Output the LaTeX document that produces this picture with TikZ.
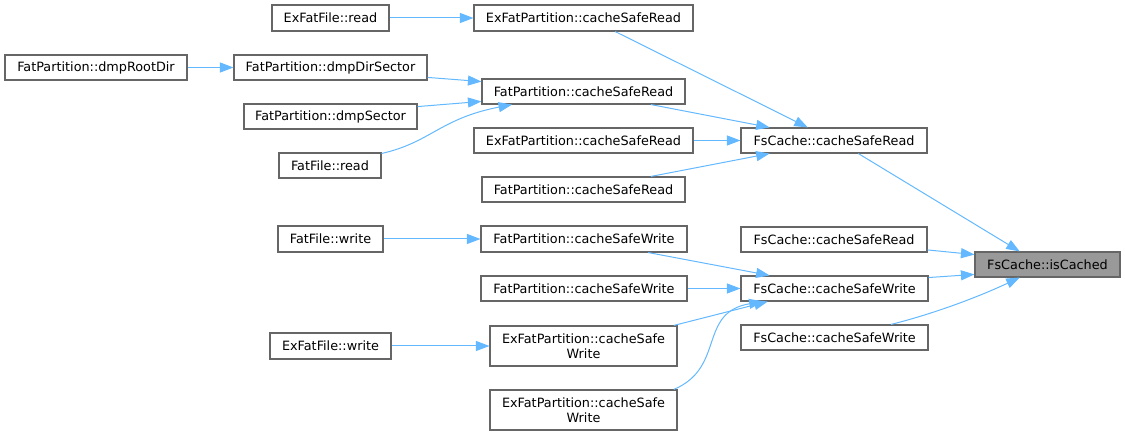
\documentclass[tikz,border=0pt]{standalone}
\usepackage{fontspec}
\setmainfont{DejaVu Sans}
\usetikzlibrary{arrows.meta,calc}
\definecolor{edgeblue}{HTML}{63B8FF}
\definecolor{boxgray}{HTML}{666666}
\definecolor{hlfill}{HTML}{999999}
\tikzset{
  fn/.style={draw=boxgray, line width=1.1pt, inner sep=0pt, minimum height=25pt,
    align=center, font=\fontsize{12.8}{14.5}\selectfont},
  fnhl/.style={fn, fill=hlfill},
  call/.style={draw=edgeblue, line width=1pt, -{Triangle[length=13.5pt,width=10pt]}},
}
\begin{document}
\begin{tikzpicture}[x=1pt,y=1pt]
\useasboundingbox (0,0) rectangle (1125,-435);
% column 1
\node[fn, minimum width=182pt] (rootdir) at (96,-67.5) {FatPartition::dmpRootDir};
% column 2
\node[fn, minimum width=117pt, minimum height=26pt] (exread) at (330.5,-18) {ExFatFile::read};
\node[fn, minimum width=193pt] (dirsector) at (330.5,-67.5) {FatPartition::dmpDirSector};
\node[fn, minimum width=173pt] (dmpsector) at (330.5,-116.5) {FatPartition::dmpSector};
\node[fn, minimum width=102pt] (fatread) at (330,-165.5) {FatFile::read};
\node[fn, minimum width=105pt, minimum height=26pt] (fatwrite) at (330.5,-239) {FatFile::write};
\node[fn, minimum width=121pt, minimum height=26pt] (exwrite) at (330.5,-346) {ExFatFile::write};
% column 3
\node[fn, minimum width=219pt, minimum height=26pt] (exreadA) at (583.5,-18) {ExFatPartition::cacheSafeRead};
\node[fn, minimum width=203pt] (fatreadA) at (583.5,-91.5) {FatPartition::cacheSafeRead};
\node[fn, minimum width=219pt] (exreadB) at (583.5,-140.5) {ExFatPartition::cacheSafeRead};
\node[fn, minimum width=203pt] (fatreadB) at (583.5,-189.5) {FatPartition::cacheSafeRead};
\node[fn, minimum width=206pt, minimum height=26pt] (fatwriteA) at (584,-239) {FatPartition::cacheSafeWrite};
\node[fn, minimum width=206pt] (fatwriteB) at (584,-288.5) {FatPartition::cacheSafeWrite};
\node[fn, minimum width=187pt, minimum height=40pt] (exwriteA) at (583.5,-346) {ExFatPartition::cacheSafe\\Write};
\node[fn, minimum width=187pt, minimum height=40pt] (exwriteB) at (583.5,-410) {ExFatPartition::cacheSafe\\Write};
% column 4
\node[fn, minimum width=186pt] (fsread) at (834,-140.5) {FsCache::cacheSafeRead};
\node[fn, minimum width=186pt] (fsread2) at (834,-239.5) {FsCache::cacheSafeRead};
\node[fn, minimum width=187pt] (fswrite) at (834.5,-288.5) {FsCache::cacheSafeWrite};
\node[fn, minimum width=187pt] (fswrite2) at (834.5,-337.5) {FsCache::cacheSafeWrite};
% column 5
\node[fnhl, minimum width=145pt] (iscached) at (1047.5,-264.5) {FsCache::isCached};

% edges: read side
\draw[call] (exread.east) -- (exreadA.west);
\draw[call] (rootdir.east) -- (dirsector.west);
\draw[call] ($(dirsector.north east)!0.88!(dirsector.south east)$) -- ($(fatreadA.north west)!0.12!(fatreadA.south west)$);
\draw[call] ($(dmpsector.north east)!0.12!(dmpsector.south east)$) -- ($(fatreadA.north west)!0.88!(fatreadA.south west)$);
\draw[call] ($(fatread.north east)!0.04!(fatread.south east)$) .. controls +(49,11) and +(-72,-14) .. ($(fatreadA.south west)!0.15!(fatreadA.south east)$);
\draw[call] ($(exreadA.south west)!0.644!(exreadA.south east)$) -- ($(fsread.north west)!0.36!(fsread.north east)$);
\draw[call] ($(fatreadA.south west)!0.83!(fatreadA.south east)$) -- ($(fsread.north west)!0.156!(fsread.north east)$);
\draw[call] (exreadB.east) -- (fsread.west);
\draw[call] ($(fatreadB.north west)!0.83!(fatreadB.north east)$) -- ($(fsread.south west)!0.156!(fsread.south east)$);
% edges into isCached
\draw[call] ($(fsread.south west)!0.63!(fsread.south east)$) -- ($(iscached.north west)!0.31!(iscached.north east)$);
\draw[call] ($(fsread2.north east)!0.9!(fsread2.south east)$) -- ($(iscached.north west)!0.12!(iscached.south west)$);
\draw[call] ($(fswrite.north east)!0.08!(fswrite.south east)$) -- ($(iscached.north west)!0.88!(iscached.south west)$);
\draw[call] ($(fswrite2.north west)!0.8!(fswrite2.north east)$) .. controls +(40,10) and +(-45,-21) .. ($(iscached.south west)!0.31!(iscached.south east)$);
% edges: write side
\draw[call] (fatwrite.east) -- (fatwriteA.west);
\draw[call] ($(fatwriteA.south west)!0.81!(fatwriteA.south east)$) -- ($(fswrite.north west)!0.155!(fswrite.north east)$);
\draw[call] (fatwriteB.east) -- (fswrite.west);
\draw[call] (exwrite.east) -- (exwriteA.west);
\draw[call] ($(exwriteA.north west)!0.98!(exwriteA.north east)$) -- ($(fswrite.south west)!0.145!(fswrite.south east)$);
\draw[call] ($(exwriteB.north west)!0.98!(exwriteB.north east)$) .. controls +(52,22) and +(-65,-11) .. ($(fswrite.south west)!0.118!(fswrite.south east)$);
\end{tikzpicture}
\end{document}
